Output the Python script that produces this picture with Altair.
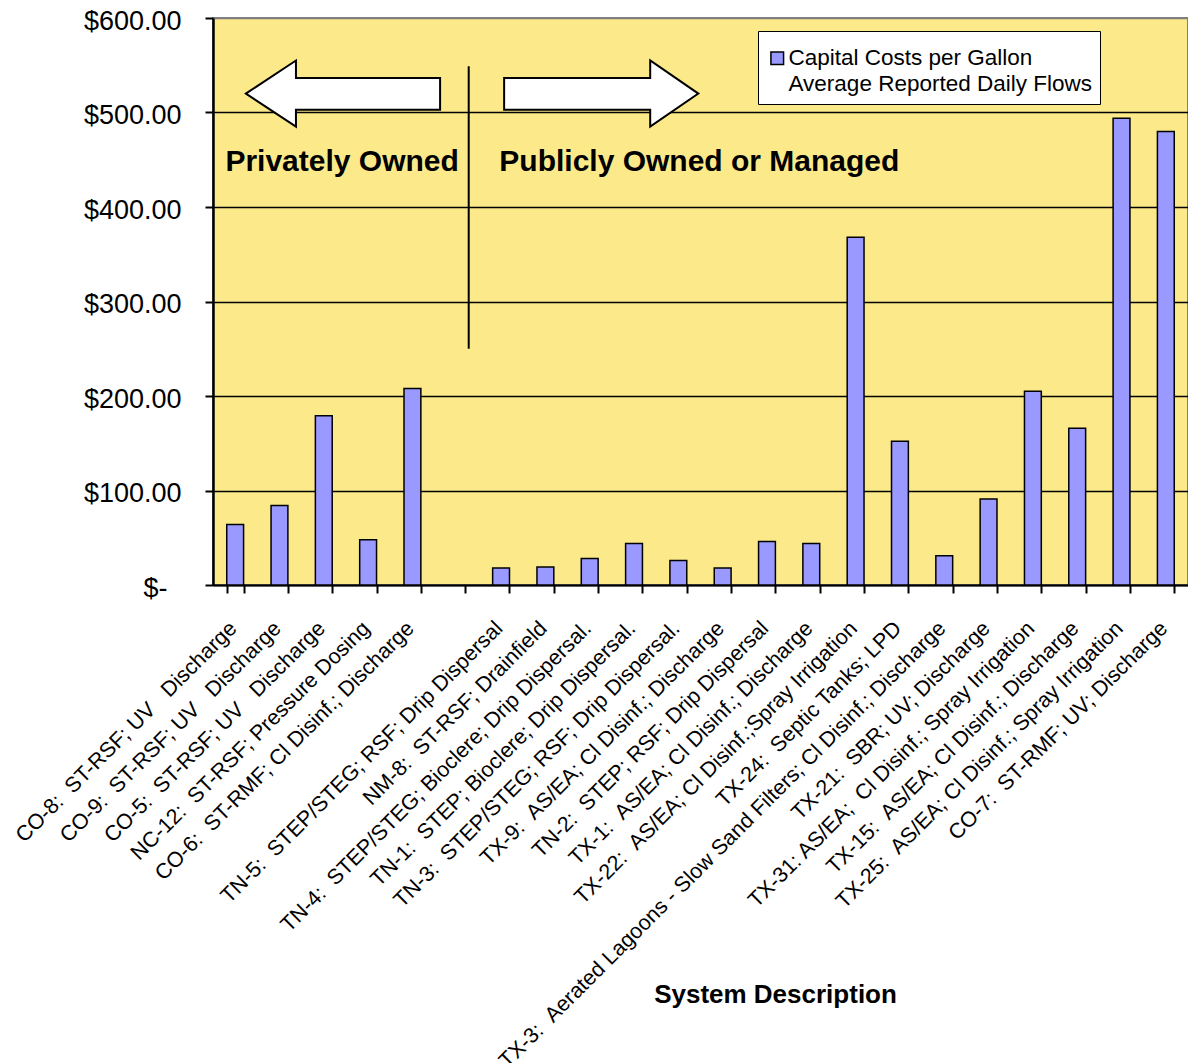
import altair as alt
import pandas as pd

NB = "\u00a0"

# System descriptions, left to right; the empty entry is the gap between groups
systems = [
    f"CO-8:{NB}{NB}ST-RSF; UV{NB}{NB}{NB}Discharge",
    f"CO-9:{NB}{NB}ST-RSF; UV{NB}{NB}{NB}Discharge",
    f"CO-5:{NB}{NB}ST-RSF; UV{NB}{NB}{NB}Discharge",
    f"NC-12:{NB}{NB}ST-RSF; Pressure Dosing",
    f"CO-6:{NB}{NB}ST-RMF; Cl Disinf.; Discharge",
    "",
    f"TN-5:{NB}{NB}STEP/STEG; RSF; Drip Dispersal",
    f"NM-8:{NB}{NB}ST-RSF; Drainfield",
    f"TN-4:{NB}{NB}STEP/STEG; Bioclere; Drip Dispersal.",
    f"TN-1:{NB}{NB}STEP; Bioclere; Drip Dispersal.",
    f"TN-3:{NB}{NB}STEP/STEG; RSF; Drip Dispersal.",
    f"TX-9:{NB}{NB}AS/EA; Cl Disinf.; Discharge",
    f"TN-2:{NB}{NB}STEP; RSF; Drip Dispersal",
    f"TX-1:{NB}{NB}AS/EA; Cl Disinf.; Discharge",
    f"TX-22:{NB}{NB}AS/EA; Cl Disinf.;Spray Irrigation",
    f"TX-24:{NB}{NB}Septic Tanks; LPD",
    f"TX-3:{NB}{NB}Aerated Lagoons - Slow Sand Filters; Cl Disinf.; Discharge",
    f"TX-21:{NB}{NB}SBR; UV; Discharge",
    f"TX-31: AS/EA;{NB}{NB}Cl Disinf.; Spray Irrigation",
    f"TX-15:{NB}{NB}AS/EA; Cl Disinf.; Discharge",
    f"TX-25:{NB}{NB}AS/EA; Cl Disinf.; Spray Irrigation",
    f"CO-7:{NB}{NB}ST-RMF; UV; Discharge",
]

# Capital cost per gallon of average reported daily flow ($)
costs = [64, 84, 179, 48, 208, None, 18, 19, 28, 44, 26, 18, 46, 44,
         368, 152, 31, 91, 205, 166, 494, 480]

# Legend text, wrapped over two lines
legend_lines = ["Capital Costs per Gallon", "Average Reported Daily Flows"]

y_ticks = [0, 100, 200, 300, 400, 500, 600]

# Ownership annotations, placed in slot units along x and dollars along y
group_labels = ["Privately Owned", "Publicly Owned or Managed"]
group_label_x = [0.28, 6.46]
group_label_y = [438, 438]

divider_x = [5.77]
divider_y = [250]
divider_y2 = [549]

# Arrow outlines: (slot position, lower $, upper $), listed left to right
left_arrow = [(0.742, 520, 520), (1.872, 485, 555), (1.872, 503, 536.5), (5.124, 503, 536.5)]
right_arrow = [(6.569, 503, 536.5), (9.865, 503, 536.5), (9.865, 485, 555), (10.951, 520, 520)]

FONT = "Liberation Sans"
BAR_FILL = "#9999FF"
PLOT_BG = "#FCE98A"

bars_df = pd.DataFrame({"system": systems, "cost": costs, "series": legend_lines[0]})

arrow_rows = []
for name, pts in (("left", left_arrow), ("right", right_arrow)):
    for u, lo, hi in pts:
        arrow_rows.append({"arrow": name, "u": u, "lo": lo, "hi": hi})
arrows_df = pd.DataFrame(arrow_rows)

labels_df = pd.DataFrame({"text": group_labels, "u": group_label_x, "y": group_label_y})
divider_df = pd.DataFrame({"u": divider_x, "y": divider_y, "y2": divider_y2})

y_scale = alt.Scale(domain=[0, 600], nice=False, zero=True)
u_scale = alt.Scale(domain=[0, 22], nice=False, zero=False)

# The second legend line carries no swatch: transparent fill and outline.
# A blank, small title adds a little headroom above the first entry.
legend_spec = alt.Legend(
    title=NB,
    titleFontSize=6,
    titlePadding=2,
    orient="none",
    legendX=545,
    legendY=13,
    fillColor="white",
    strokeColor="black",
    padding=8,
    rowPadding=3,
    labelFont=FONT,
    labelFontSize=22.5,
    labelColor="black",
    labelOffset=0,
    labelLimit=1000,
    labelBaseline="middle",
    symbolType="square",
    symbolSize=160,
    symbolStrokeWidth=1.5,
)

bars = alt.Chart(bars_df).mark_bar(strokeWidth=1.5).encode(
    x=alt.X(
        "system:N",
        sort=systems,
        scale=alt.Scale(domain=systems, paddingInner=0.62, paddingOuter=0.31),
        axis=alt.Axis(
            title="System Description",
            titleFont=FONT,
            titleFontSize=26,
            titleFontWeight="bold",
            titleColor="black",
            titleX=562,
            titleY=417,
            titleBaseline="alphabetic",
            titleAlign="center",
            labelAngle=-45,
            labelAlign="right",
            labelBaseline="middle",
            labelFont=FONT,
            labelFontSize=21.5,
            labelColor="black",
            labelPadding=32,
            labelOffset=-2,
            labelLimit=2000,
            labelOverlap=False,
            tickBand="extent",
            tickSize=8,
            tickWidth=2,
            tickColor="black",
            domainColor="black",
            domainWidth=2,
            grid=False,
        ),
    ),
    y=alt.Y(
        "cost:Q",
        scale=y_scale,
        axis=alt.Axis(
            title=None,
            values=y_ticks,
            labelExpr="datum.value == 0 ? '$-' : '$' + format(datum.value, '.2f')",
            labelFont=FONT,
            labelFontSize=27,
            labelColor="black",
            labelPadding={"condition": {"test": "datum.value == 0", "value": 38}, "value": 24},
            labelOffset=3,
            tickSize=8,
            tickWidth=2,
            tickColor="black",
            domainColor="black",
            domainWidth=2.5,
            grid=True,
            gridColor={"condition": {"test": "datum.value == 600", "value": "#7f7f7f"}, "value": "black"},
            gridWidth=1.6,
        ),
    ),
    fill=alt.Fill(
        "series:N",
        scale=alt.Scale(domain=legend_lines, range=[BAR_FILL, "transparent"]),
        legend=legend_spec,
    ),
    stroke=alt.Stroke(
        "series:N",
        scale=alt.Scale(domain=legend_lines, range=["black", "transparent"]),
        legend=legend_spec,
    ),
)

arrows = alt.Chart(arrows_df).mark_area(
    fill="white", stroke="black", strokeWidth=2, interpolate="linear", opacity=1
).encode(
    x=alt.X("u:Q", scale=u_scale, axis=None),
    y=alt.Y("lo:Q", scale=y_scale),
    y2="hi:Q",
    detail="arrow:N",
)

divider = alt.Chart(divider_df).mark_rule(color="black", strokeWidth=2).encode(
    x=alt.X("u:Q", scale=u_scale, axis=None),
    y=alt.Y("y:Q", scale=y_scale),
    y2="y2:Q",
)

group_text = alt.Chart(labels_df).mark_text(
    font=FONT, fontSize=30, fontWeight="bold", align="left", baseline="alphabetic", color="black"
).encode(
    x=alt.X("u:Q", scale=u_scale, axis=None),
    y=alt.Y("y:Q", scale=y_scale),
    text="text:N",
)

chart = alt.layer(bars, arrows, divider, group_text).resolve_scale(
    x="independent"
).properties(
    width=975,
    height=567,
    autosize=alt.AutoSizeParams(type="none"),
    padding={"left": 213, "top": 18, "right": 0, "bottom": 478},
    background="white",
).configure_view(
    fill=PLOT_BG, stroke="#7f7f7f", strokeWidth=2
)

chart.save("out.html", embed_options={"renderer": "svg", "actions": False})
